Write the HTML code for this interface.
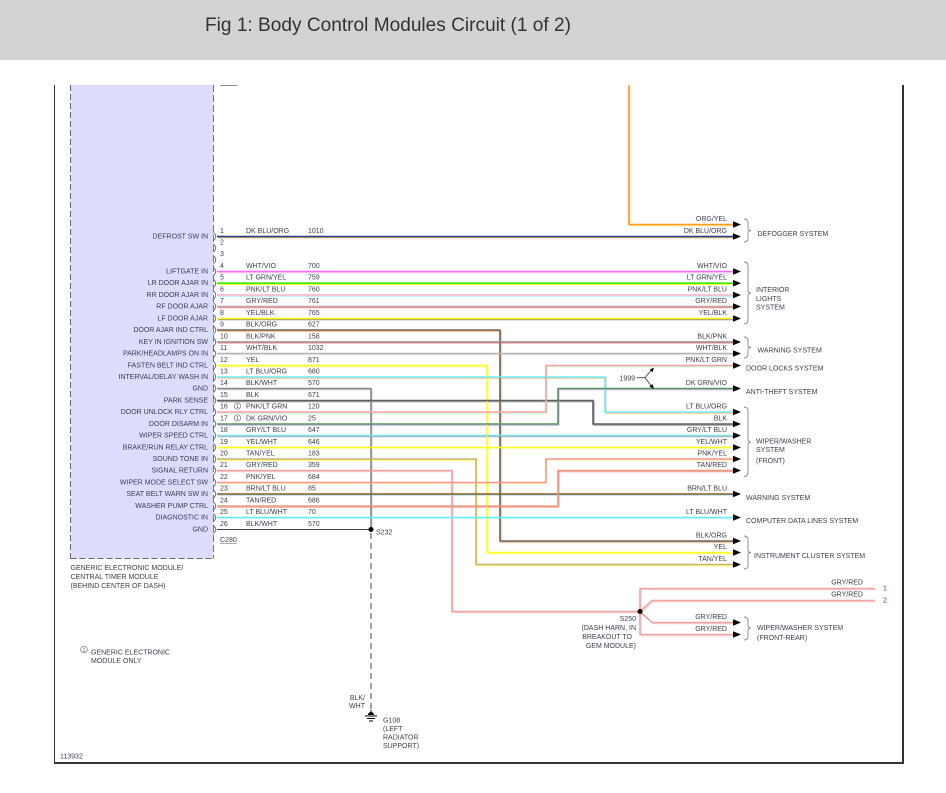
<!DOCTYPE html>
<html><head><meta charset="utf-8"><style>
html,body{margin:0;padding:0;background:#fff;}
svg{display:block;}
text{font-family:"Liberation Sans",Arial,sans-serif;font-size:7px;fill:#3d3d4d;}
.r{text-anchor:end;}
.w{fill:none;stroke-linejoin:miter;}
</style></head><body>
<svg width="946" height="793" viewBox="0 0 946 793" xmlns="http://www.w3.org/2000/svg">
<rect x="0" y="0" width="946" height="60" fill="#d3d3d3"/>
<text x="205" y="31" textLength="366" lengthAdjust="spacingAndGlyphs" style="font-family:'Liberation Sans Narrow','Liberation Sans',sans-serif;font-size:19px;fill:#333;">Fig 1: Body Control Modules Circuit (1 of 2)</text>

<!-- frame -->
<line x1="54.5" y1="85" x2="54.5" y2="763" stroke="#333" stroke-width="1"/>
<line x1="54" y1="763" x2="904" y2="763" stroke="#333" stroke-width="2"/>
<line x1="903" y1="85" x2="903" y2="764" stroke="#333" stroke-width="2"/>

<!-- module -->
<rect x="70.5" y="85" width="143" height="473.5" fill="#dcdcfd"/>
<line x1="70.5" y1="85" x2="70.5" y2="558.5" stroke="#666" stroke-dasharray="6,3"/>
<line x1="70.5" y1="558.5" x2="214" y2="558.5" stroke="#666" stroke-dasharray="6,3"/>
<line x1="213.5" y1="85" x2="213.5" y2="558.5" stroke="#777" stroke-dasharray="7,3"/>
<line x1="220" y1="85.5" x2="237" y2="85.5" stroke="#888"/>

<!-- connector arcs -->
<g fill="none" stroke="#666" stroke-width="0.9">
<path d="M213.5,232.5 Q218,236.5 213.5,240.5"/>
<path d="M213.5,244 Q218,248 213.5,252"/>
<path d="M213.5,255.7 Q218,259.7 213.5,263.7"/>
<path d="M213.5,267.5 Q218,271.5 213.5,275.5"/>
<path d="M213.5,279.2 Q218,283.2 213.5,287.2"/>
<path d="M213.5,291 Q218,295 213.5,299"/>
<path d="M213.5,302.5 Q218,306.5 213.5,310.5"/>
<path d="M213.5,314.5 Q218,318.5 213.5,322.5"/>
<path d="M213.5,326 Q218,330 213.5,334"/>
<path d="M213.5,338 Q218,342 213.5,346"/>
<path d="M213.5,349.5 Q218,353.5 213.5,357.5"/>
<path d="M213.5,361.5 Q218,365.5 213.5,369.5"/>
<path d="M213.5,373 Q218,377 213.5,381"/>
<path d="M213.5,384.5 Q218,388.5 213.5,392.5"/>
<path d="M213.5,396.5 Q218,400.5 213.5,404.5"/>
<path d="M213.5,408 Q218,412 213.5,416"/>
<path d="M213.5,420 Q218,424 213.5,428"/>
<path d="M213.5,431.5 Q218,435.5 213.5,439.5"/>
<path d="M213.5,443.5 Q218,447.5 213.5,451.5"/>
<path d="M213.5,455 Q218,459 213.5,463"/>
<path d="M213.5,466.5 Q218,470.5 213.5,474.5"/>
<path d="M213.5,478.5 Q218,482.5 213.5,486.5"/>
<path d="M213.5,490 Q218,494 213.5,498"/>
<path d="M213.5,502 Q218,506 213.5,510"/>
<path d="M213.5,513.5 Q218,517.5 213.5,521.5"/>
<path d="M213.5,525.5 Q218,529.5 213.5,533.5"/>
</g>

<!-- left labels -->
<g class="r">
<text class="r" x="208" y="238.5">DEFROST SW IN</text>
<text class="r" x="208" y="273.5">LIFTGATE IN</text>
<text class="r" x="208" y="285.2">LR DOOR AJAR IN</text>
<text class="r" x="208" y="297">RR DOOR AJAR IN</text>
<text class="r" x="208" y="308.5">RF DOOR AJAR</text>
<text class="r" x="208" y="320.5">LF DOOR AJAR</text>
<text class="r" x="208" y="332">DOOR AJAR IND CTRL</text>
<text class="r" x="208" y="344">KEY IN IGNITION SW</text>
<text class="r" x="208" y="355.5">PARK/HEADLAMPS ON IN</text>
<text class="r" x="208" y="367.5">FASTEN BELT IND CTRL</text>
<text class="r" x="208" y="379">INTERVAL/DELAY WASH IN</text>
<text class="r" x="208" y="390.5">GND</text>
<text class="r" x="208" y="402.5">PARK SENSE</text>
<text class="r" x="208" y="414">DOOR UNLOCK RLY CTRL</text>
<text class="r" x="208" y="426">DOOR DISARM IN</text>
<text class="r" x="208" y="437.5">WIPER SPEED CTRL</text>
<text class="r" x="208" y="449.5">BRAKE/RUN RELAY CTRL</text>
<text class="r" x="208" y="461">SOUND TONE IN</text>
<text class="r" x="208" y="472.5">SIGNAL RETURN</text>
<text class="r" x="208" y="484.5">WIPER MODE SELECT SW</text>
<text class="r" x="208" y="496">SEAT BELT WARN SW IN</text>
<text class="r" x="208" y="508">WASHER PUMP CTRL</text>
<text class="r" x="208" y="519.5">DIAGNOSTIC IN</text>
<text class="r" x="208" y="531.5">GND</text>
</g>

<!-- pin numbers, colors, circuits -->
<g>
<text x="220" y="233">1</text><text x="246" y="233">DK BLU/ORG</text><text x="308" y="233">1010</text>
<text x="220" y="244.5">2</text>
<text x="220" y="256.2">3</text>
<text x="220" y="268">4</text><text x="246" y="268">WHT/VIO</text><text x="308" y="268">700</text>
<text x="220" y="279.7">5</text><text x="246" y="279.7">LT GRN/YEL</text><text x="308" y="279.7">759</text>
<text x="220" y="291.5">6</text><text x="246" y="291.5">PNK/LT BLU</text><text x="308" y="291.5">760</text>
<text x="220" y="303">7</text><text x="246" y="303">GRY/RED</text><text x="308" y="303">761</text>
<text x="220" y="315">8</text><text x="246" y="315">YEL/BLK</text><text x="308" y="315">765</text>
<text x="220" y="326.5">9</text><text x="246" y="326.5">BLK/ORG</text><text x="308" y="326.5">627</text>
<text x="220" y="338.5">10</text><text x="246" y="338.5">BLK/PNK</text><text x="308" y="338.5">158</text>
<text x="220" y="350">11</text><text x="246" y="350">WHT/BLK</text><text x="308" y="350">1032</text>
<text x="220" y="362">12</text><text x="246" y="362">YEL</text><text x="308" y="362">871</text>
<text x="220" y="373.5">13</text><text x="246" y="373.5">LT BLU/ORG</text><text x="308" y="373.5">680</text>
<text x="220" y="385">14</text><text x="246" y="385">BLK/WHT</text><text x="308" y="385">570</text>
<text x="220" y="397">15</text><text x="246" y="397">BLK</text><text x="308" y="397">671</text>
<text x="220" y="408.5">16</text><text x="246" y="408.5">PNK/LT GRN</text><text x="308" y="408.5">120</text>
<text x="220" y="420.5">17</text><text x="246" y="420.5">DK GRN/VIO</text><text x="308" y="420.5">25</text>
<text x="220" y="432">18</text><text x="246" y="432">GRY/LT BLU</text><text x="308" y="432">647</text>
<text x="220" y="444">19</text><text x="246" y="444">YEL/WHT</text><text x="308" y="444">646</text>
<text x="220" y="455.5">20</text><text x="246" y="455.5">TAN/YEL</text><text x="308" y="455.5">183</text>
<text x="220" y="467">21</text><text x="246" y="467">GRY/RED</text><text x="308" y="467">359</text>
<text x="220" y="479">22</text><text x="246" y="479">PNK/YEL</text><text x="308" y="479">684</text>
<text x="220" y="490.5">23</text><text x="246" y="490.5">BRN/LT BLU</text><text x="308" y="490.5">85</text>
<text x="220" y="502.5">24</text><text x="246" y="502.5">TAN/RED</text><text x="308" y="502.5">686</text>
<text x="220" y="514">25</text><text x="246" y="514">LT BLU/WHT</text><text x="308" y="514">70</text>
<text x="220" y="526">26</text><text x="246" y="526">BLK/WHT</text><text x="308" y="526">570</text>
</g>
<circle cx="237.5" cy="406" r="3.2" fill="#fff" stroke="#777" stroke-width="0.7"/>
<text x="236.2" y="408" style="font-size:5px">1</text>
<circle cx="237.5" cy="418" r="3.2" fill="#fff" stroke="#777" stroke-width="0.7"/>
<text x="236.2" y="420" style="font-size:5px">1</text>
<text x="220" y="542">C280</text>
<line x1="220" y1="543.5" x2="237" y2="543.5" stroke="#555" stroke-width="0.6"/>

<!-- WIRES: stripe (offset) then primary -->
<g class="w" stroke-width="1.1" transform="translate(1,1.2)">
<polyline points="629,85 629,224.5 733,224.5" stroke="#ffe680"/>
<polyline points="217,236.5 733,236.5" stroke="#f0a040"/>
<polyline points="217,271.5 733,271.5" stroke="#ffd0ff"/>
<polyline points="217,283.2 733,283.2" stroke="#ffff44"/>
<polyline points="217,295 733,295" stroke="#aaeeff"/>
<polyline points="217,306.5 733,306.5" stroke="#f09090"/>
<polyline points="217,318.5 733,318.5" stroke="#888"/>
<polyline points="217,330 500,330 500,541 733,541" stroke="#f0b070"/>
<polyline points="217,342 733,342" stroke="#ffaaaa"/>
<polyline points="217,353.5 733,353.5" stroke="#e8e8e8"/>
<polyline points="217,365.5 487,365.5 487,552.5 733,552.5" stroke="#ffff88"/>
<polyline points="217,377 605,377 605,412 733,412" stroke="#ffc080"/>
<polyline points="217,388.5 371,388.5 371,529.5" stroke="#ccc"/>
<polyline points="217,400.5 593,400.5 593,424 733,424" stroke="#999"/>
<polyline points="217,412 546,412 546,365.5 733,365.5" stroke="#bbffbb"/>
<polyline points="217,424 558,424 558,388.5 733,388.5" stroke="#ccaaff"/>
<polyline points="217,435.5 733,435.5" stroke="#aaaaaa"/>
<polyline points="217,447.5 733,447.5" stroke="#ffffcc"/>
<polyline points="217,459 476,459 476,564.5 733,564.5" stroke="#ffff55"/>
<polyline points="217,470.5 452,470.5 452,611.5 640,611.5" stroke="#ffcccc"/>
<polyline points="217,482.5 546,482.5 546,459 733,459" stroke="#ffffaa"/>
<polyline points="217,494 733,494" stroke="#aaddff"/>
<polyline points="217,506 558,506 558,470.5 733,470.5" stroke="#ff9999"/>
<polyline points="217,517.5 733,517.5" stroke="#ddffff"/>
<polyline points="640,611.5 640,588.5 875,588.5" stroke="#ffcccc"/>
<polyline points="640,611.5 652,600.5 875,600.5" stroke="#ffcccc"/>
<polyline points="640,611.5 652,622.5 733,622.5" stroke="#ffcccc"/>
<polyline points="640,611.5 640,634.5 733,634.5" stroke="#ffcccc"/>
</g>
<g class="w" stroke-width="1.6">
<polyline points="629,85 629,224.5 733,224.5" stroke="#ff9922"/>
<polyline points="217,236.5 733,236.5" stroke="#1e3c9c"/>
<polyline points="217,271.5 733,271.5" stroke="#ff66ff"/>
<polyline points="217,283.2 733,283.2" stroke="#33ee00"/>
<polyline points="217,295 733,295" stroke="#ffb0cc"/>
<polyline points="217,306.5 733,306.5" stroke="#c4a0a0"/>
<polyline points="217,318.5 733,318.5" stroke="#ffff00"/>
<polyline points="217,330 500,330 500,541 733,541" stroke="#6e6060"/>
<polyline points="217,342 733,342" stroke="#908888"/>
<polyline points="217,353.5 733,353.5" stroke="#b4b4b4"/>
<polyline points="217,365.5 487,365.5 487,552.5 733,552.5" stroke="#ffff22"/>
<polyline points="217,377 605,377 605,412 733,412" stroke="#66eeff"/>
<polyline points="217,388.5 371,388.5 371,529.5" stroke="#888"/>
<polyline points="217,400.5 593,400.5 593,424 733,424" stroke="#606060"/>
<polyline points="217,412 546,412 546,365.5 733,365.5" stroke="#ff9ab0"/>
<polyline points="217,424 558,424 558,388.5 733,388.5" stroke="#559955"/>
<polyline points="217,435.5 733,435.5" stroke="#77e4ee"/>
<polyline points="217,447.5 733,447.5" stroke="#ffff22"/>
<polyline points="217,459 476,459 476,564.5 733,564.5" stroke="#c8b078"/>
<polyline points="217,470.5 452,470.5 452,611.5 640,611.5" stroke="#eea4a4"/>
<polyline points="217,482.5 546,482.5 546,459 733,459" stroke="#ff8f99"/>
<polyline points="217,494 733,494" stroke="#8a5a1a"/>
<polyline points="217,506 558,506 558,470.5 733,470.5" stroke="#e0a080"/>
<polyline points="217,517.5 733,517.5" stroke="#5ff0f5"/>
<polyline points="640,611.5 640,588.5 875,588.5" stroke="#f0a4a4"/>
<polyline points="640,611.5 652,600.5 875,600.5" stroke="#f0a4a4"/>
<polyline points="640,611.5 652,622.5 733,622.5" stroke="#f0a4a4"/>
<polyline points="640,611.5 640,634.5 733,634.5" stroke="#f0a4a4"/>
</g>
<polyline points="217,529.5 371,529.5" stroke="#444" stroke-width="1" fill="none"/>
<circle cx="371" cy="529.5" r="2.5" fill="#000"/>
<circle cx="640" cy="611.5" r="2.5" fill="#000"/>
<line x1="371" y1="533" x2="371" y2="709" stroke="#444" stroke-width="1" stroke-dasharray="6,4"/>
<!-- ground -->
<path d="M368,715 A3,3 0 0 1 374,715 Z" fill="#000"/>
<line x1="365" y1="716" x2="377" y2="716" stroke="#000" stroke-width="1"/>
<line x1="367" y1="718.5" x2="375" y2="718.5" stroke="#000" stroke-width="1"/>
<line x1="369" y1="721" x2="373" y2="721" stroke="#000" stroke-width="1"/>
<line x1="371" y1="710" x2="371" y2="713" stroke="#000" stroke-width="1"/>

<!-- arrows -->
<g fill="#000">
<polygon points="733,221.2 741,224.5 733,227.8"/>
<polygon points="733,233.2 741,236.5 733,239.8"/>
<polygon points="733,268.2 741,271.5 733,274.8"/>
<polygon points="733,279.9 741,283.2 733,286.5"/>
<polygon points="733,291.7 741,295 733,298.3"/>
<polygon points="733,303.2 741,306.5 733,309.8"/>
<polygon points="733,315.2 741,318.5 733,321.8"/>
<polygon points="733,338.7 741,342 733,345.3"/>
<polygon points="733,350.2 741,353.5 733,356.8"/>
<polygon points="733,362.2 741,365.5 733,368.8"/>
<polygon points="733,385.2 741,388.5 733,391.8"/>
<polygon points="733,408.7 741,412 733,415.3"/>
<polygon points="733,420.7 741,424 733,427.3"/>
<polygon points="733,432.2 741,435.5 733,438.8"/>
<polygon points="733,444.2 741,447.5 733,450.8"/>
<polygon points="733,455.7 741,459 733,462.3"/>
<polygon points="733,467.2 741,470.5 733,473.8"/>
<polygon points="733,490.7 741,494 733,497.3"/>
<polygon points="733,514.2 741,517.5 733,520.8"/>
<polygon points="733,537.7 741,541 733,544.3"/>
<polygon points="733,549.2 741,552.5 733,555.8"/>
<polygon points="733,561.2 741,564.5 733,567.8"/>
<polygon points="733,619.2 741,622.5 733,625.8"/>
<polygon points="733,631.2 741,634.5 733,637.8"/>
</g>

<!-- right wire labels -->
<g>
<text class="r" x="727" y="221">ORG/YEL</text>
<text class="r" x="727" y="233">DK BLU/ORG</text>
<text class="r" x="727" y="268">WHT/VIO</text>
<text class="r" x="727" y="279.7">LT GRN/YEL</text>
<text class="r" x="727" y="291.5">PNK/LT BLU</text>
<text class="r" x="727" y="303">GRY/RED</text>
<text class="r" x="727" y="315">YEL/BLK</text>
<text class="r" x="727" y="338.5">BLK/PNK</text>
<text class="r" x="727" y="350">WHT/BLK</text>
<text class="r" x="727" y="362">PNK/LT GRN</text>
<text class="r" x="727" y="385">DK GRN/VIO</text>
<text class="r" x="727" y="408.5">LT BLU/ORG</text>
<text class="r" x="727" y="420.5">BLK</text>
<text class="r" x="727" y="432">GRY/LT BLU</text>
<text class="r" x="727" y="444">YEL/WHT</text>
<text class="r" x="727" y="455.5">PNK/YEL</text>
<text class="r" x="727" y="467">TAN/RED</text>
<text class="r" x="727" y="490.5">BRN/LT BLU</text>
<text class="r" x="727" y="514">LT BLU/WHT</text>
<text class="r" x="727" y="537.5">BLK/ORG</text>
<text class="r" x="727" y="549">YEL</text>
<text class="r" x="727" y="561">TAN/YEL</text>
<text class="r" x="863" y="584.5">GRY/RED</text>
<text class="r" x="863" y="596.5">GRY/RED</text>
<text x="883" y="590.5" style="fill:#634">1</text>
<text x="883" y="602.5" style="fill:#634">2</text>
<text class="r" x="727" y="619">GRY/RED</text>
<text class="r" x="727" y="631">GRY/RED</text>
</g>

<!-- braces -->
<g fill="none" stroke="#888" stroke-width="0.9">
<path d="M744,219 Q748,219 748,223 L748,228 Q748,230.5 751,230.5 Q748,230.5 748,233 L748,238 Q748,242 744,242"/>
<path d="M744,262 Q748,262 748,266 L748,290 Q748,293 751,293 Q748,293 748,296 L748,320 Q748,324 744,324"/>
<path d="M744,337 Q748,337 748,341 L748,345 Q748,347.5 751,347.5 Q748,347.5 748,350 L748,354 Q748,358 744,358"/>
<path d="M744,407 Q748,407 748,411 L748,439 Q748,442 751,442 Q748,442 748,445 L748,472.5 Q748,476.5 744,476.5"/>
<path d="M744,536 Q748,536 748,540 L748,550 Q748,552.5 751,552.5 Q748,552.5 748,555 L748,565 Q748,569 744,569"/>
<path d="M744,617 Q748,617 748,621 L748,625 Q748,628 751,628 Q748,628 748,631 L748,636 Q748,640 744,640"/>
</g>

<!-- group labels -->
<g>
<text x="757.5" y="236">DEFOGGER SYSTEM</text>
<text x="756" y="292">INTERIOR</text>
<text x="756" y="301">LIGHTS</text>
<text x="756" y="309.5">SYSTEM</text>
<text x="757.5" y="352.5">WARNING SYSTEM</text>
<text x="746" y="370.5">DOOR LOCKS SYSTEM</text>
<text x="746" y="394">ANTI-THEFT SYSTEM</text>
<text x="756" y="443.5">WIPER/WASHER</text>
<text x="756" y="452.2">SYSTEM</text>
<text x="756" y="463.2">(FRONT)</text>
<text x="746" y="500">WARNING SYSTEM</text>
<text x="746" y="523">COMPUTER DATA LINES SYSTEM</text>
<text x="754" y="558">INSTRUMENT CLUSTER SYSTEM</text>
<text x="757" y="630">WIPER/WASHER SYSTEM</text>
<text x="757" y="640">(FRONT-REAR)</text>
</g>

<!-- 1999 fork -->
<text class="r" x="635" y="380.5">1999</text>
<g stroke="#333" stroke-width="0.8" fill="none">
<line x1="637" y1="377.7" x2="645" y2="377.7"/>
<line x1="645" y1="377.7" x2="652" y2="369.5"/>
<line x1="645" y1="377.7" x2="652" y2="387"/>
</g>
<polygon points="654,367.5 649.5,369.8 652.6,372.3" fill="#000"/>
<polygon points="654,388.8 649.3,386.6 652.5,384" fill="#000"/>

<!-- S labels -->
<text x="376" y="534.5">S232</text>
<text class="r" x="636" y="621">S250</text>
<text class="r" x="636" y="630">(DASH HARN, IN</text>
<text class="r" x="632" y="639">BREAKOUT TO</text>
<text class="r" x="636" y="648">GEM MODULE)</text>

<text class="r" x="365" y="700">BLK/</text>
<text class="r" x="365" y="708">WHT</text>
<text x="383" y="722.5">G108</text>
<text x="383" y="731">(LEFT</text>
<text x="383" y="739.5">RADIATOR</text>
<text x="383" y="748">SUPPORT)</text>

<text x="70.5" y="570">GENERIC ELECTRONIC MODULE/</text>
<text x="70.5" y="579">CENTRAL TIMER MODULE</text>
<text x="70.5" y="588">(BEHIND CENTER OF DASH)</text>

<circle cx="84" cy="649.5" r="3.3" fill="#fff" stroke="#777" stroke-width="0.7"/>
<text x="82.6" y="651.5" style="font-size:5px">1</text>
<text x="91" y="654.5">GENERIC ELECTRONIC</text>
<text x="91" y="663">MODULE ONLY</text>

<text x="60" y="758.5">113932</text>
</svg>
</body></html>
